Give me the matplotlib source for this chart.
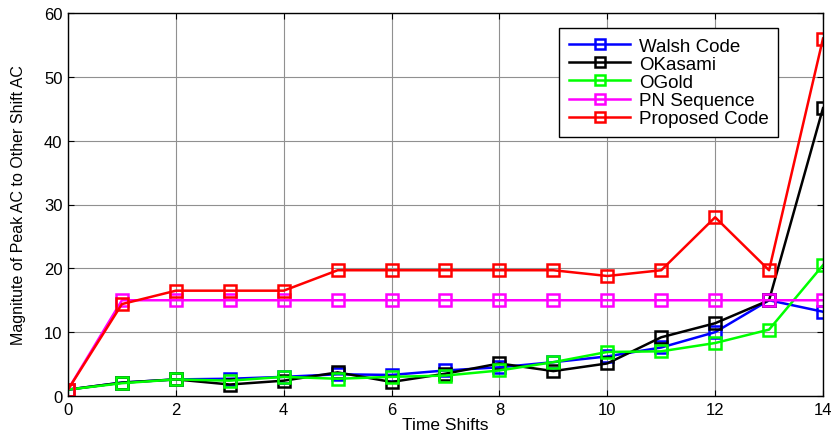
import matplotlib
matplotlib.use("Agg")
import matplotlib.pyplot as plt

plt.rcParams['font.family'] = ['Liberation Sans', 'DejaVu Sans']

time_shifts = list(range(15))
walsh = [1, 2.1, 2.6, 2.7, 3.0, 3.4, 3.3, 4.0, 4.5, 5.3, 6.2, 7.6, 10.0, 15, 13.2]
okasami = [1, 2.1, 2.6, 1.8, 2.4, 3.7, 2.2, 3.5, 5.1, 3.9, 5.1, 9.2, 11.4, 15, 45.1]
ogold = [1, 2.0, 2.6, 2.4, 3.0, 2.7, 3.0, 3.2, 4.0, 5.3, 6.9, 7.0, 8.3, 10.4, 20.5]
pn = [1, 15, 15, 15, 15, 15, 15, 15, 15, 15, 15, 15, 15, 15, 15]
proposed = [1, 14.4, 16.5, 16.5, 16.5, 19.7, 19.7, 19.7, 19.7, 19.7, 18.8, 19.7, 28.0, 19.7, 56]

series = [
    ("Walsh Code", walsh, "#0000ff"),
    ("OKasami", okasami, "#000000"),
    ("OGold", ogold, "#00ff00"),
    ("PN Sequence", pn, "#ff00ff"),
    ("Proposed Code", proposed, "#ff0000"),
]

fig = plt.figure(figsize=(8.31, 4.39), dpi=100)
ax = fig.add_axes([68/831, 1-397/439, (823-68)/831, (397-14)/439])

for label, vals, col in series:
    ax.plot(time_shifts, vals, color=col, lw=1.8, marker='s', markersize=8.5,
            markerfacecolor='none', markeredgecolor=col, markeredgewidth=1.8,
            label=label)

ax.set_xlim(0, 14)
ax.set_ylim(0, 60)
ax.set_xticks(range(0, 15, 2))
ax.set_yticks(range(0, 61, 10))
ax.grid(True, color='#909090', lw=0.8, linestyle='-')
ax.tick_params(direction='in', top=True, right=True, labelsize=12, length=4, pad=4)
for s in ax.spines.values():
    s.set_linewidth(1.0)
ax.set_xlabel("Time Shifts", fontsize=12.5, labelpad=0)
ax.set_ylabel("Magnitute of Peak AC to Other Shift AC", fontsize=11.5, labelpad=13)

leg = ax.legend(loc='upper right', bbox_to_anchor=(778/831, 1-29/439),
                bbox_transform=fig.transFigure, borderaxespad=0,
                fontsize=13.5, fancybox=False, framealpha=1, edgecolor='black',
                handlelength=3.3, handletextpad=0.45, labelspacing=0.06,
                borderpad=0.5, markerscale=0.85)
leg.get_frame().set_linewidth(1.0)

fig.savefig("out.png", dpi=100)
